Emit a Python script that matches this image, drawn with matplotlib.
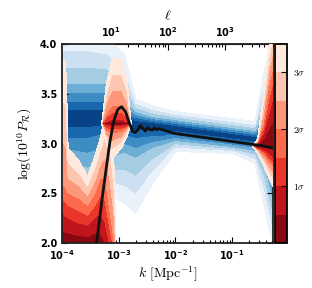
import numpy as np
import matplotlib
matplotlib.use("Agg")
import matplotlib.pyplot as plt
from matplotlib.ticker import FixedLocator, FuncFormatter

# ---------------- data (log10 k on x, ln(10^10 P_R) on y) ----------------
# black best-fit curve
curve_logk = [-3.42, -3.39, -3.28, -3.16, -3.09, -3.02, -2.95, -2.88, -2.81, -2.75,
              -2.71, -2.66, -2.62, -2.57, -2.53, -2.49, -2.45, -2.41, -2.37, -2.33,
              -2.29, -2.24, -2.18, -2.0, -1.5, -1.0, -0.5, -0.28]
curve_lnP = [1.90, 2.00, 2.50, 3.00, 3.22, 3.34, 3.37, 3.32, 3.20, 3.12,
             3.11, 3.14, 3.18, 3.15, 3.125, 3.16, 3.14, 3.135, 3.155, 3.14,
             3.15, 3.14, 3.13, 3.10, 3.06, 3.02, 2.98, 2.955]

# sigma-contour knots per column: 3.5s, 2s, 1s below, centre, 1s, 2s, 3.5s above
blue_x   = [-4.0, -3.55, -3.2, -2.9, -2.7, -2.4, -2.0, -1.0, -0.6, -0.45, -0.22]
blue_l35 = [2.60, 2.30, 2.50, 2.40, 2.30, 2.60, 2.92, 2.90, 2.80, 2.40, 1.80]
blue_l2  = [2.85, 2.75, 2.85, 2.90, 2.85, 2.95, 3.02, 2.96, 2.92, 2.80, 2.25]
blue_l1  = [3.05, 3.05, 3.10, 3.08, 3.05, 3.07, 3.08, 3.01, 2.98, 2.93, 2.65]
blue_c   = [3.27, 3.27, 3.27, 3.22, 3.20, 3.19, 3.16, 3.08, 3.05, 3.03, 3.00]
blue_u1  = [3.42, 3.42, 3.42, 3.32, 3.26, 3.23, 3.20, 3.12, 3.09, 3.12, 3.35]
blue_u2  = [3.60, 3.60, 3.60, 3.45, 3.32, 3.27, 3.24, 3.16, 3.13, 3.30, 3.65]
blue_u35 = [4.10, 4.10, 4.05, 3.90, 3.45, 3.38, 3.32, 3.25, 3.22, 3.70, 4.20]

redA_x   = [-4.0, -3.93, -3.89, -3.70, -3.55, -3.42, -3.33, -3.24, -3.15, -3.08, -3.04]
redA_l35 = [1.60, 1.60, 1.60, 1.60, 1.60, 1.60, 1.55, 1.45, 1.30, 1.30, 1.80]
redA_l2  = [1.75, 1.75, 1.75, 1.75, 1.75, 1.75, 1.70, 1.60, 1.45, 1.45, 1.80]
redA_l1  = [1.85, 1.85, 1.85, 1.85, 1.85, 1.85, 1.80, 1.70, 1.60, 1.60, 1.80]
redA_c   = [1.95, 1.95, 1.95, 1.95, 1.95, 1.95, 1.90, 1.80, 1.70, 1.70, 1.80]
redA_u1  = [2.30, 2.27, 2.25, 2.20, 2.18, 2.25, 2.30, 2.20, 1.95, 1.85, 1.80]
redA_u2  = [2.60, 2.55, 2.50, 2.45, 2.38, 2.50, 2.65, 2.65, 2.30, 2.00, 1.80]
redA_u35 = [3.87, 3.80, 2.95, 2.83, 2.67, 2.88, 3.05, 3.30, 3.25, 2.80, 1.80]

redB_x   = [-3.30, -3.22, -3.12, -2.95, -2.85, -2.78]
redB_l35 = [3.20, 3.00, 2.85, 2.95, 3.08, 3.20]
redB_l2  = [3.20, 3.12, 3.10, 3.11, 3.15, 3.20]
redB_l1  = [3.20, 3.18, 3.17, 3.17, 3.18, 3.20]
redB_c   = [3.20, 3.20, 3.20, 3.20, 3.20, 3.20]
redB_u1  = [3.20, 3.22, 3.24, 3.24, 3.22, 3.20]
redB_u2  = [3.20, 3.30, 3.38, 3.38, 3.30, 3.20]
redB_u35 = [3.20, 3.60, 3.85, 3.85, 3.65, 3.20]

redC_x   = [-0.64, -0.55, -0.45, -0.35, -0.22]
redC_l35 = [2.97, 2.90, 2.78, 2.65, 2.50]
redC_l2  = [2.97, 2.93, 2.88, 2.80, 2.72]
redC_l1  = [2.97, 2.95, 2.93, 2.88, 2.83]
redC_c   = [2.97, 2.97, 2.98, 3.00, 3.00]
redC_u1  = [2.97, 3.00, 3.10, 3.30, 3.60]
redC_u2  = [2.97, 3.02, 3.20, 3.60, 3.90]
redC_u35 = [2.97, 3.05, 3.50, 4.00, 4.40]

sigma_levels = [0, 0.5, 1, 1.5, 2, 2.5, 3, 3.5]
cbar_ticks = [1, 2, 3]
cbar_labels = [r"$1\sigma$", r"$2\sigma$", r"$3\sigma$"]
bottom_ticks = [-4, -3, -2, -1]
top_ticks = [1, 2, 3]
ell_shift = 4.13

# ---------------- field construction from knots ----------------
XG = np.linspace(-4.0, -0.22, 600)
YG = np.linspace(1.9, 4.1, 600)
ZROW = np.array([9.0, 3.5, 2, 1, 0, 1, 2, 3.5, 9.0])


def sigma_field(xs, *rows):
    xs = np.asarray(xs, float)
    Z = np.full((YG.size, XG.size), 9.0)
    inside = np.where((XG >= xs[0]) & (XG <= xs[-1]))[0]
    pos = [np.interp(XG[inside], xs, np.asarray(r, float)) for r in rows]
    for col, j in enumerate(inside):
        knots = [p[col] for p in pos]
        kn = np.array([knots[0] - 0.5] + knots + [knots[-1] + 0.5])
        kn = kn + np.arange(kn.size) * 1e-6  # keep strictly increasing
        Z[:, j] = np.interp(YG, kn, ZROW)
    return Z


plt.rcParams['font.family'] = ['DejaVu Sans']
fig = plt.figure(figsize=(3.12, 2.88), dpi=100)
ax = fig.add_axes([62/312, 45/288, 211/312, 199/288])
cax = fig.add_axes([275/312, 45/288, 12/312, 199/288])

Zb = sigma_field(blue_x, blue_l35, blue_l2, blue_l1, blue_c, blue_u1, blue_u2, blue_u35)
ax.contourf(XG, YG, Zb, levels=sigma_levels, cmap='Blues_r', zorder=1)
Za = sigma_field(redA_x, redA_l35, redA_l2, redA_l1, redA_c, redA_u1, redA_u2, redA_u35)
cs_red = ax.contourf(XG, YG, Za, levels=sigma_levels, cmap='Reds_r', zorder=2)
Zr = sigma_field(redB_x, redB_l35, redB_l2, redB_l1, redB_c, redB_u1, redB_u2, redB_u35)
ax.contourf(XG, YG, Zr, levels=sigma_levels, cmap='Reds_r', zorder=3)
Zc = sigma_field(redC_x, redC_l35, redC_l2, redC_l1, redC_c, redC_u1, redC_u2, redC_u35)
ax.contourf(XG, YG, Zc, levels=sigma_levels, cmap='Reds_r', zorder=3)

ax.plot(curve_logk, curve_lnP, color='#111111', lw=2.0, zorder=5)

ax.set_xlim(-4, -0.28)
ax.set_ylim(2.0, 4.0)

minor_b = [d + np.log10(m) for d in range(-4, 0) for m in range(2, 10) if d + np.log10(m) < -0.28]
ax.xaxis.set_major_locator(FixedLocator(bottom_ticks))
ax.xaxis.set_minor_locator(FixedLocator(minor_b))
ax.xaxis.set_major_formatter(FuncFormatter(lambda v, p: r"$\mathbf{10^{%d}}$" % round(v)))
ax.set_yticks([2.0, 2.5, 3.0, 3.5, 4.0])
ax.set_yticklabels(["2.0", "2.5", "3.0", "3.5", "4.0"])
ax.tick_params(axis='both', which='both', direction='in', top=False, right=True,
               labelsize=7, width=0.8)
ax.tick_params(which='major', length=4)
ax.tick_params(which='minor', length=2)
for lab in ax.get_yticklabels():
    lab.set_fontweight('bold')
for sp in ax.spines.values():
    sp.set_linewidth(1.3)
    sp.set_color('#222222')

ax.set_xlabel(r"$k\ [\mathrm{Mpc}^{-1}]$", fontsize=10, math_fontfamily='cm', labelpad=2)
ax.set_ylabel(r"$\log(10^{10}P_\mathcal{R})$", fontsize=10, math_fontfamily='cm', labelpad=4)

sec = ax.secondary_xaxis('top', functions=(lambda v: v + ell_shift, lambda v: v - ell_shift))
minor_t = [d + np.log10(m) for d in range(0, 4) for m in range(2, 10)]
sec.xaxis.set_major_locator(FixedLocator(top_ticks))
sec.xaxis.set_minor_locator(FixedLocator(minor_t))
sec.xaxis.set_major_formatter(FuncFormatter(lambda v, p: r"$\mathbf{10^{%d}}$" % round(v)))
sec.tick_params(axis='x', which='both', direction='in', labelsize=7, width=0.8)
sec.tick_params(which='major', length=4)
sec.tick_params(which='minor', length=2)
sec.set_xlabel(r"$\ell$", fontsize=10, math_fontfamily='cm', labelpad=4)

cb = fig.colorbar(cs_red, cax=cax, ticks=cbar_ticks)
cb.ax.set_yticklabels(cbar_labels)
for lab in cb.ax.get_yticklabels():
    lab.set_math_fontfamily('cm')
    lab.set_fontsize(7)
cb.ax.tick_params(direction='in', length=4, width=0.8, pad=4)
cb.outline.set_linewidth(1.3)

fig.savefig("out.png", dpi=100)
